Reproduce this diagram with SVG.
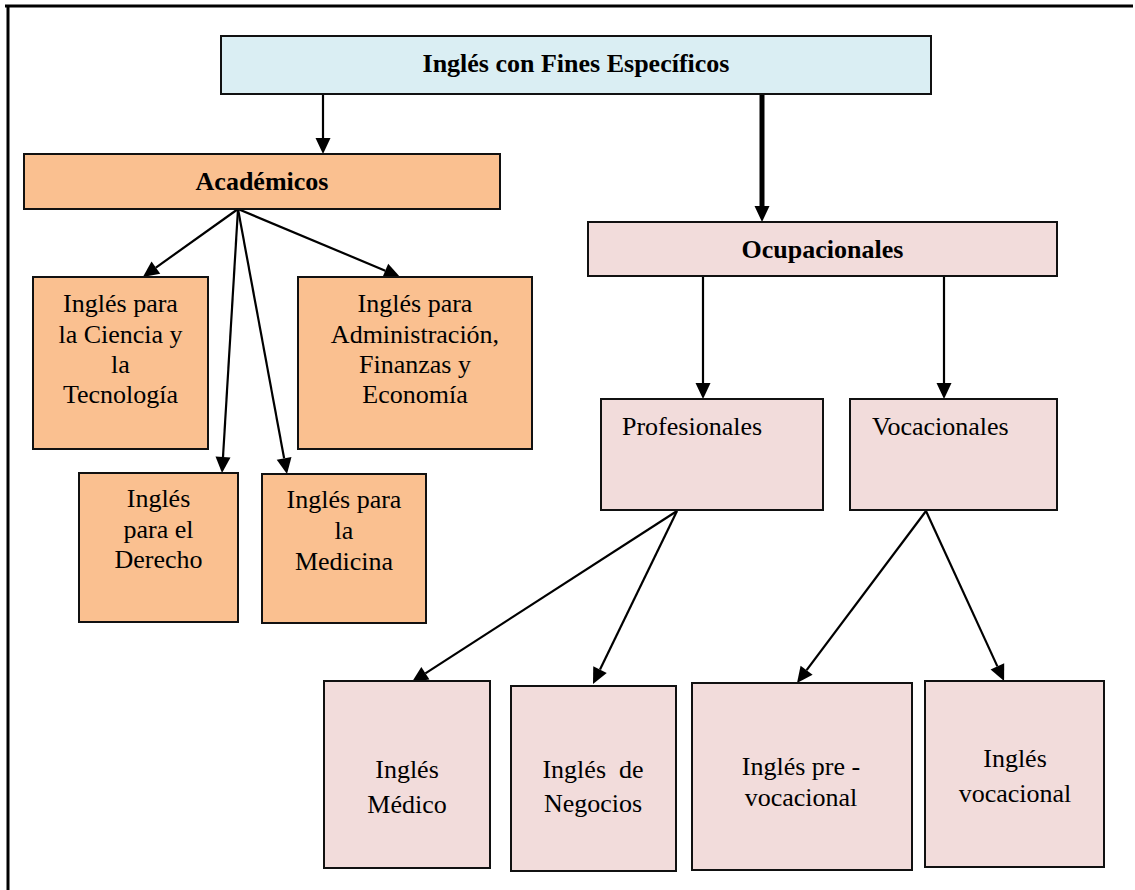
<svg xmlns="http://www.w3.org/2000/svg" width="1135" height="890" viewBox="0 0 1135 890">
<style>
  .box { stroke: #111; stroke-width: 2; }
  .blue { fill: #DAEEF3; }
  .orange { fill: #FAC090; }
  .pink { fill: #F2DCDB; }
  .t { font-family: "Liberation Serif", "Times New Roman", serif; font-size: 26px; fill: #000; }
  .b { font-weight: bold; }
  .c { text-anchor: middle; }
  .conn { stroke: #000; stroke-width: 2.2; fill: none; marker-end: url(#ah); }
  .thick { stroke-width: 5; }
  .frame { stroke: #000; stroke-width: 3; fill: none; }
</style>
<defs>
  <marker id="ah" markerUnits="userSpaceOnUse" markerWidth="17" markerHeight="16" refX="0" refY="7.5" orient="auto" overflow="visible">
    <path d="M0,0 L16,7.5 L0,15 Z" fill="#000"/>
  </marker>
</defs>
<rect width="1135" height="890" fill="#fff"/>
<g id="frame">
  <line class="frame" x1="5" y1="6" x2="1133" y2="6"/>
  <line class="frame" x1="8" y1="5" x2="8" y2="890"/>
</g>
<g id="connectors">
  <line class="conn" x1="323" y1="95" x2="323" y2="138"/>
  <line class="conn thick" x1="762" y1="95" x2="762" y2="206"/>
  <line class="conn" x1="238" y1="209" x2="155.9" y2="267.6"/>
  <line class="conn" x1="238" y1="209" x2="223" y2="457"/>
  <line class="conn" x1="238" y1="209" x2="284.1" y2="458.3"/>
  <line class="conn" x1="238" y1="209" x2="385.3" y2="270.7"/>
  <line class="conn" x1="703" y1="277" x2="703" y2="383"/>
  <line class="conn" x1="944" y1="277" x2="944" y2="383"/>
  <line class="conn" x1="677" y1="511" x2="425.4" y2="673.3"/>
  <line class="conn" x1="677" y1="511" x2="600" y2="669.6"/>
  <line class="conn" x1="926" y1="511" x2="806.6" y2="670.2"/>
  <line class="conn" x1="926" y1="511" x2="997.4" y2="666.4"/>
</g>
<g id="n-root">
  <rect class="box blue" x="221" y="36" width="710" height="58"/>
  <text class="t b c" x="576" y="72">Inglés con Fines Específicos</text>
</g>
<g id="n-academicos">
  <rect class="box orange" x="24" y="154" width="476" height="55"/>
  <text class="t b c" x="262" y="190">Académicos</text>
</g>
<g id="n-ciencia">
  <rect class="box orange" x="33" y="277" width="175" height="172"/>
  <text class="t c" x="120.5" y="312">Inglés para</text>
  <text class="t c" x="120.5" y="342.5">la Ciencia y</text>
  <text class="t c" x="120.5" y="372.5">la</text>
  <text class="t c" x="120.5" y="403">Tecnología</text>
</g>
<g id="n-admin">
  <rect class="box orange" x="298" y="277" width="234" height="172"/>
  <text class="t c" x="415" y="312">Inglés para</text>
  <text class="t c" x="415" y="342.5">Administración,</text>
  <text class="t c" x="415" y="372.5">Finanzas y</text>
  <text class="t c" x="415" y="403">Economía</text>
</g>
<g id="n-derecho">
  <rect class="box orange" x="79" y="473" width="159" height="149"/>
  <text class="t c" x="158.5" y="507">Inglés</text>
  <text class="t c" x="158.5" y="538">para el</text>
  <text class="t c" x="158.5" y="568">Derecho</text>
</g>
<g id="n-medicina">
  <rect class="box orange" x="262" y="474" width="164" height="149"/>
  <text class="t c" x="344" y="508">Inglés para</text>
  <text class="t c" x="344" y="539">la</text>
  <text class="t c" x="344" y="570">Medicina</text>
</g>
<g id="n-ocupacionales">
  <rect class="box pink" x="588" y="222" width="469" height="54"/>
  <text class="t b c" x="822.5" y="258">Ocupacionales</text>
</g>
<g id="n-profesionales">
  <rect class="box pink" x="601" y="399" width="222" height="111"/>
  <text class="t" x="622" y="435">Profesionales</text>
</g>
<g id="n-vocacionales">
  <rect class="box pink" x="850" y="399" width="207" height="111"/>
  <text class="t" x="872" y="435">Vocacionales</text>
</g>
<g id="n-medico">
  <rect class="box pink" x="324" y="681" width="166" height="187"/>
  <text class="t c" x="407" y="778">Inglés</text>
  <text class="t c" x="407" y="813">Médico</text>
</g>
<g id="n-negocios">
  <rect class="box pink" x="511" y="686" width="165" height="185"/>
  <text class="t c" x="593" y="778" style="white-space:pre">Inglés  de</text>
  <text class="t c" x="593" y="812">Negocios</text>
</g>
<g id="n-prevocacional">
  <rect class="box pink" x="692" y="683" width="220" height="187"/>
  <text class="t c" x="801" y="775">Inglés pre -</text>
  <text class="t c" x="801" y="806">vocacional</text>
</g>
<g id="n-vocacional">
  <rect class="box pink" x="925" y="681" width="179" height="186"/>
  <text class="t c" x="1015" y="767">Inglés</text>
  <text class="t c" x="1015" y="802">vocacional</text>
</g>
</svg>
